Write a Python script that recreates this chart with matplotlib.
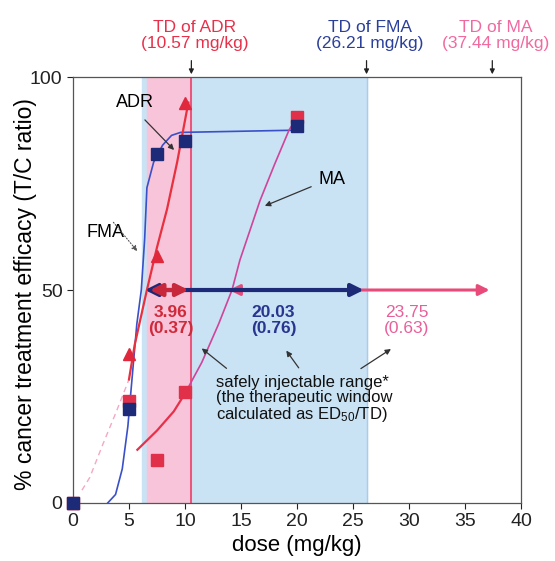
import matplotlib
matplotlib.use("Agg")
import matplotlib.pyplot as plt

plt.rcParams["font.family"] = ["Liberation Sans", "DejaVu Sans"]

# measured points (dose in mg/kg, % T/C)
dose = [0, 5, 7.5, 10, 20]
fma = [0, 22, 82, 85, 88.5]
adr_dose = [0, 5, 7.5, 10]
adr = [0, 35, 58, 94]
ma = [0, 24, 10, 26, 90.5]

# fitted curves
fma_fit_x = [3.1, 3.8, 4.4, 4.9, 5.3, 5.7, 6.1, 6.4, 6.6, 7.2, 8.0, 8.8, 9.6, 19.5, 20]
fma_fit_y = [0, 2, 8, 18, 30, 42, 50, 62, 74, 80, 84, 86.3, 87, 87.5, 88.5]
adr_fit_x = [0.8, 1.5, 2.7, 3.8, 5.0, 5.5, 6.6, 7.5, 8.4, 9.3, 10.3]
adr_fit_y = [3, 6, 14, 21, 29, 37, 50, 60, 69, 80, 94]
ma_fit_x = [5.75, 7.5, 9.0, 10.0, 11.5, 13.0, 14.2, 14.9, 16.7, 18.0, 19.3, 20]
ma_fit_y = [12.5, 17, 21.5, 25.7, 33, 42, 50, 57, 71, 79.5, 87.6, 90.5]

# toxic doses, ED50 and windows
td = {"ADR": 10.57, "FMA": 26.21, "MA": 37.44}
ed50 = {"ADR": 6.61, "FMA": 6.18, "MA": 13.69}
window = {"ADR": ("3.96", "(0.37)"), "FMA": ("20.03", "(0.76)"), "MA": ("23.75", "(0.63)")}

navy = "#1c2a78"
red = "#e0283c"
pink = "#e8609a"

fig = plt.figure(figsize=(5.55, 5.61), dpi=100)
ax = fig.add_axes([0.1315, 0.1034, 0.8072, 0.7593])

# shaded safe ranges
ax.axvspan(ed50["FMA"], td["FMA"], color="#c9e2f4", zorder=0)
ax.axvspan(ed50["ADR"], td["ADR"], color="#f8c4d9", zorder=0.5)
ax.axvline(td["ADR"], color="#e8406a", lw=1.2, zorder=0.6)
ax.axvline(td["FMA"], color="#a8cdea", lw=1, zorder=0.6)

# fitted curves
ax.plot(fma_fit_x, fma_fit_y, color="#3a50c8", lw=1.2, zorder=2)
ax.plot(adr_fit_x[:5], adr_fit_y[:5], color="#f4a8c4", lw=1, ls=(0, (4, 3)), zorder=2)
ax.plot(adr_fit_x[4:], adr_fit_y[4:], color="#e8303f", lw=1.6, zorder=2)
ax.plot(ma_fit_x[:4], ma_fit_y[:4], color="#e8304a", lw=1.6, zorder=2)
ax.plot(ma_fit_x[3:], ma_fit_y[3:], color="#d0449a", lw=1.2, zorder=2)

# horizontal window arrows at 50 %
ax.annotate("", xy=(td["MA"], 50), xytext=(ed50["MA"], 50),
            arrowprops=dict(arrowstyle="<|-|>", color="#e84a7a", lw=2.2, mutation_scale=16), zorder=3)
ax.annotate("", xy=(td["FMA"], 50), xytext=(ed50["FMA"], 50),
            arrowprops=dict(arrowstyle="<|-|>", color=navy, lw=3, mutation_scale=18), zorder=4)
ax.annotate("", xy=(td["ADR"], 50), xytext=(ed50["ADR"], 50),
            arrowprops=dict(arrowstyle="<|-|>", color="#c8283c", lw=3, mutation_scale=18), zorder=5)

# data markers
ax.plot(dose, ma, "s", color="#e0304a", ms=8, zorder=6, clip_on=False)
ax.plot(adr_dose, adr, "^", color=red, ms=8, zorder=6, clip_on=False)
ax.plot(dose, fma, "s", color=navy, ms=8, zorder=7, clip_on=False)

# window values
ax.text(8.7, 42.8, "\n".join(window["ADR"]), color="#d02a3a", fontsize=12.5, fontweight="bold",
        ha="center", va="center", linespacing=1.05)
ax.text(17.9, 42.8, "\n".join(window["FMA"]), color="#2a3590", fontsize=12.5, fontweight="bold",
        ha="center", va="center", linespacing=1.05)
ax.text(29.8, 42.8, "\n".join(window["MA"]), color=pink, fontsize=12.5,
        ha="center", va="center", linespacing=1.05)

# explanation text and pointers
ax.text(12.8, 30, "safely injectable range*\n(the therapeutic window\ncalculated as $\\mathregular{ED_{50}}$/TD)",
        fontsize=12, color="#111111", ha="left", va="top", linespacing=1.0)
arrow_kw = dict(arrowstyle="-|>", color="#333333", lw=0.9, mutation_scale=8)
ax.annotate("", xy=(11.3, 36.7), xytext=(13.9, 31.2), arrowprops=arrow_kw)
ax.annotate("", xy=(18.9, 36.3), xytext=(20.3, 31.2), arrowprops=arrow_kw)
ax.annotate("", xy=(28.6, 36.5), xytext=(25.5, 31.2), arrowprops=arrow_kw)

# curve labels
ax.text(5.5, 94, "ADR", fontsize=13, ha="center", va="center")
ax.annotate("", xy=(9.2, 82.4), xytext=(6.25, 90.4), arrowprops=arrow_kw)
ax.text(2.9, 63.6, "FMA", fontsize=13, ha="center", va="center")
ax.annotate("", xy=(5.9, 58.6), xytext=(3.45, 66.4),
            arrowprops=dict(arrowstyle="-|>", color="#555555", lw=0.8, ls=":", mutation_scale=8))
ax.text(23.1, 76, "MA", fontsize=13, ha="center", va="center")
ax.annotate("", xy=(16.9, 69.5), xytext=(21.5, 74.5), arrowprops=arrow_kw)

# toxic dose labels above the frame
td_colors = {"ADR": "#e8304a", "FMA": "#2a3f9a", "MA": "#f06aa0"}
for name in ["ADR", "FMA", "MA"]:
    ax.annotate("", xy=(td[name], 100), xytext=(td[name], 104.5), annotation_clip=False,
                arrowprops=dict(arrowstyle="-|>", color="#222222", lw=0.9, mutation_scale=7))
    ax.text(td[name] + 0.3, 106, "TD of %s\n(%.2f mg/kg)" % (name, td[name]), color=td_colors[name],
            fontsize=12.5, ha="center", va="bottom", linespacing=1.15)

ax.set_xlim(0, 40)
ax.set_ylim(0, 100)
ax.set_xticks(range(0, 41, 5))
ax.set_yticks([0, 50, 100])
ax.tick_params(labelsize=14, colors="#222222", length=4, width=0.8)
for s in ax.spines.values():
    s.set_color("#555555")
    s.set_linewidth(0.9)
ax.set_xlabel("dose (mg/kg)", fontsize=16, labelpad=3)
ax.set_ylabel("% cancer treatment efficacy (T/C ratio)", fontsize=16.5)
ax.yaxis.set_label_coords(-0.08, 0.49)

fig.savefig("out.png", dpi=100)
